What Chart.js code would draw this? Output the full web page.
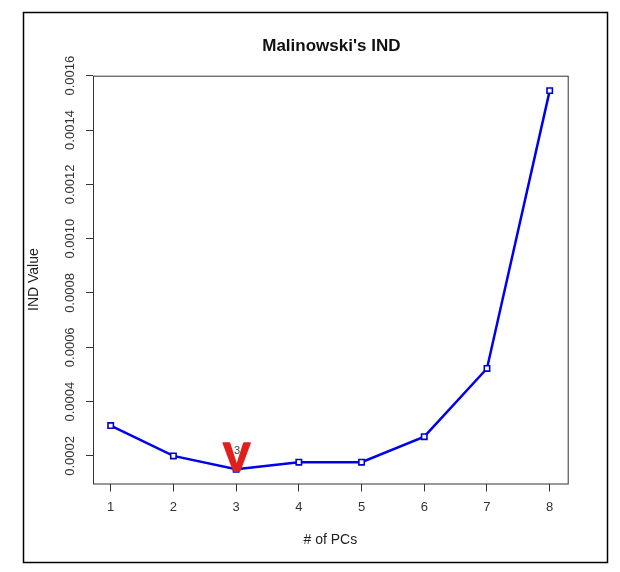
<!DOCTYPE html>
<html>
<head>
<meta charset="utf-8">
<script src="https://cdn.jsdelivr.net/npm/chart.js@4/dist/chart.umd.min.js"></script>
<style>
  html, body { margin: 0; padding: 0; background: #fff; }
  canvas { display: block; }
</style>
</head>
<body>
<canvas id="grafico" width="620" height="572"></canvas>
<script>
// numero de PCs e valor do IND
const pcs = [1, 2, 3, 4, 5, 6, 7, 8];
const indValues = [0.000312, 0.000200, 0.000151, 0.000177, 0.000177, 0.000271, 0.000522, 0.001545];

const xTicks = [1, 2, 3, 4, 5, 6, 7, 8];
const yTicks = [0.0002, 0.0004, 0.0006, 0.0008, 0.0010, 0.0012, 0.0014, 0.0016];
const yTickLabels = ["0.0002", "0.0004", "0.0006", "0.0008", "0.0010", "0.0012", "0.0014", "0.0016"];

const markedPC = 3;          // minimo marcado com o "V"
const markedLabel = "3";

const FONT = "'Liberation Sans', Arial, sans-serif";
const INK = "#333";

// moldura externa, caixa do grafico, titulo, ticks do eixo y e marca vermelha
const extras = {
  id: "extras",
  beforeDraw(chart) {
    const ctx = chart.ctx;
    ctx.save();
    ctx.fillStyle = "#fff";
    ctx.fillRect(0, 0, chart.width, chart.height);
    ctx.strokeStyle = "#000";
    ctx.lineWidth = 1.5;
    ctx.strokeRect(23.5, 12.5, 584, 550);
    ctx.restore();
  },
  afterDraw(chart) {
    const ctx = chart.ctx;
    const a = chart.chartArea;
    const y = chart.scales.y;
    const x = chart.scales.x;
    ctx.save();

    ctx.strokeStyle = INK;
    ctx.lineWidth = 1;
    ctx.strokeRect(a.left + 0.5, a.top + 0.5, a.right - a.left, a.bottom - a.top);

    ctx.fillStyle = "#111";
    ctx.font = "bold 17px " + FONT;
    ctx.textAlign = "center";
    ctx.textBaseline = "middle";
    ctx.fillText("Malinowski's IND", (a.left + a.right) / 2 + 1, 46);

    ctx.fillStyle = INK;
    ctx.font = "13px " + FONT;
    yTicks.forEach((v, i) => {
      const py = y.getPixelForValue(v);
      ctx.save();
      ctx.translate(70, py);
      ctx.rotate(-Math.PI / 2);
      ctx.fillText(yTickLabels[i], 0, 0);
      ctx.restore();
    });

    const i = pcs.indexOf(markedPC);
    const px = x.getPixelForValue(pcs[i]);
    const py = y.getPixelForValue(indValues[i]);
    ctx.fillStyle = "#e0201c";
    ctx.strokeStyle = "#e0201c";
    ctx.lineWidth = 1.6;
    ctx.lineJoin = "round";
    ctx.font = "bold 41px " + FONT;
    ctx.textBaseline = "alphabetic";
    ctx.fillText("V", px + 0.5, py + 2);
    ctx.strokeText("V", px + 0.5, py + 2);
    ctx.fillStyle = "#444";
    ctx.font = "11px " + FONT;
    ctx.textBaseline = "middle";
    ctx.fillText(markedLabel, px + 1, py - 18);

    ctx.restore();
  }
};

new Chart(document.getElementById("grafico"), {
  type: "line",
  data: {
    datasets: [{
      data: pcs.map((p, i) => ({ x: p, y: indValues[i] })),
      borderColor: "#0000ee",
      borderWidth: 2.5,
      tension: 0,
      pointStyle: "rect",
      pointRadius: 3.8,
      pointBorderWidth: 1.6,
      pointBorderColor: "#0000cc",
      pointBackgroundColor: "#fff"
    }]
  },
  options: {
    responsive: false,
    devicePixelRatio: 1,
    animation: false,
    layout: { padding: { left: 0, top: 75.7, right: 52.3, bottom: 0 } },
    plugins: {
      legend: { display: false },
      title: { display: false },
      tooltip: { enabled: false }
    },
    scales: {
      x: {
        type: "linear",
        min: 0.718,
        max: 8.287,
        afterBuildTicks: s => { s.ticks = xTicks.map(v => ({ value: v })); },
        afterFit: s => { s.height = 572 - 483.5; },
        border: { display: false },
        grid: { drawOnChartArea: false, drawTicks: true, tickLength: 8, tickColor: INK, lineWidth: 1 },
        ticks: { color: INK, font: { family: FONT, size: 13 }, padding: 8, maxRotation: 0 },
        title: {
          display: true,
          text: "# of PCs",
          color: "#222",
          font: { family: FONT, size: 14 },
          padding: { top: 0, bottom: 23 }
        }
      },
      y: {
        type: "linear",
        min: 0.0000985,
        max: 0.0016,
        afterBuildTicks: s => { s.ticks = yTicks.map(v => ({ value: v })); },
        afterFit: s => { s.width = 93; },
        border: { display: false },
        grid: { drawOnChartArea: false, drawTicks: true, tickLength: 7, tickColor: INK, lineWidth: 1 },
        ticks: { display: false },
        title: {
          display: true,
          text: "IND Value",
          color: "#222",
          font: { family: FONT, size: 14 },
          padding: { top: 26, bottom: 0 }
        }
      }
    }
  },
  plugins: [extras]
});
</script>
</body>
</html>
